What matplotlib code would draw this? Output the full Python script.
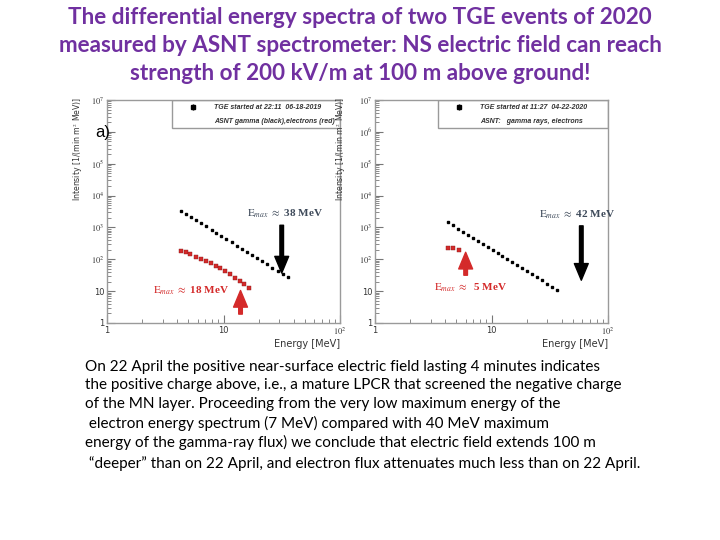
import numpy as np
import matplotlib
matplotlib.use("Agg")
import matplotlib.pyplot as plt
from matplotlib.patches import Rectangle
from matplotlib.ticker import LogLocator, NullFormatter

# ── Data ─────────────────────────────────────────────────────────────────────
# panel a) 06-18-2019
e_gam_a = [4.3, 4.8, 5.3, 5.8, 6.4, 7.1, 7.9, 8.7, 9.6, 10.6, 11.8,
           13.0, 14.4, 15.9, 17.6, 19.5, 21.5, 23.8, 26.3, 29.1, 32.2, 35.6]
i_gam_a = [3300, 2650, 2100, 1700, 1350, 1070, 850, 680, 540, 430, 340,
           270, 215, 172, 137, 109, 87, 69, 55, 44, 35, 27]
e_ele_a = [4.34, 4.75, 5.18, 5.83, 6.44, 7.1, 7.79, 8.6, 9.36, 10.3,
           11.4, 12.6, 13.9, 15.1, 16.7]
i_ele_a = [184, 167, 145, 120, 99, 86, 74, 63, 53, 42, 34, 26, 20.5, 17.3, 12.7]

# panel b) 04-22-2020
e_gam_b = [4.25, 4.7, 5.2, 5.7, 6.3, 6.9, 7.6, 8.4, 9.3, 10.2, 11.3, 12.4,
           13.7, 15.1, 16.6, 18.3, 20.2, 22.2, 24.5, 27.0, 29.8, 32.8, 36.2]
i_gam_b = [1430, 1150, 920, 740, 590, 475, 380, 305, 245, 196, 157, 126,
           101, 81, 65, 52, 42, 33.5, 27, 21.6, 17.3, 13.9, 11.0]
e_ele_b = [4.25, 4.69, 5.25]
i_ele_b = [230, 228, 200]

legend_a = ["TGE started at 22:11  06-18-2019", "ASNT gamma (black),electrons (red)"]
legend_b = ["TGE started at 11:27  04-22-2020", "ASNT:   gamma rays, electrons"]

title_lines = [
    "The differential energy spectra of two TGE events of 2020",
    "measured by ASNT spectrometer: NS electric field can reach",
    "strength of 200 kV/m at 100 m above ground!",
]
body_lines = [
    "On 22 April the positive near-surface electric field lasting 4 minutes indicates",
    "the positive charge above, i.e., a mature LPCR that screened the negative charge",
    "of the MN layer. Proceeding from the very low maximum energy of the",
    " electron energy spectrum (7 MeV) compared with 40 MeV maximum",
    "energy of the gamma-ray flux) we conclude that electric field extends 100 m",
    " \u201cdeeper\u201d than on 22 April, and electron flux attenuates much less than on 22 April.",
]

plt.rcParams["mathtext.fontset"] = "stix"

PURPLE = "#7030A0"
RED = "#d42a2a"
SLATE = "#3e4a5a"
FRAME = "#9a9a9a"

fig = plt.figure(figsize=(7.2, 5.4), dpi=100)
W, H = 720, 540


def make_axes(x0, x1, ylabels):
    ax = fig.add_axes([x0 / W, 1 - 323 / H, (x1 - x0) / W, 223 / H])
    ax.set_xscale("log")
    ax.set_yscale("log")
    ax.set_xlim(1, 100)
    ax.set_ylim(1, 1e7)
    for s in ax.spines.values():
        s.set_color(FRAME)
        s.set_linewidth(1)
    ax.xaxis.set_minor_locator(LogLocator(base=10, subs=np.arange(2, 10)))
    ax.yaxis.set_minor_locator(LogLocator(base=10, subs=np.arange(2, 10)))
    ax.xaxis.set_minor_formatter(NullFormatter())
    ax.yaxis.set_minor_formatter(NullFormatter())
    ax.set_xticks([1, 10, 100], ["1", "10", "$10^2$"])
    ax.set_yticks([1, 10, 1e2, 1e3, 1e4, 1e5, 1e6, 1e7], ylabels)
    ax.tick_params(which="both", direction="in", colors="#777777",
                   labelcolor="#333333", labelsize=6, pad=2)
    ax.tick_params(which="major", length=6)
    ax.tick_params(which="minor", length=3)
    ax.set_xlabel("Energy [MeV]", loc="right", fontsize=7, color="#333333", labelpad=1)
    ax.set_ylabel("Intensity [1/(min m$^2$ MeV)]", fontsize=5.6, color="#333333")
    ax.grid(False)
    return ax


def legend_box(ax, lines, x0):
    ax.add_patch(Rectangle((x0, 0.874), 1 - x0, 0.126, transform=ax.transAxes,
                           fill=False, edgecolor=FRAME, lw=1, zorder=5))
    ax.errorbar([x0 + 0.09], [0.968], yerr=[0.012], fmt="s", ms=2.2, color="black",
                transform=ax.transAxes, elinewidth=1, capsize=0)
    for txt, y in zip(lines, [0.968, 0.905]):
        ax.text(x0 + 0.18, y, txt, transform=ax.transAxes, fontsize=5.0,
                style="italic", weight="bold", color="#333333", va="center",
                family="Liberation Sans")


def arrow(ax, x, y_from, y_to, color):
    ax.annotate("", xy=(x, y_to), xytext=(x, y_from),
                arrowprops=dict(width=2.6, headwidth=10, headlength=12,
                                facecolor=color, edgecolor=color))


def emax(ax, x, y, txt, color):
    ax.text(x, y, r"$\mathrm{E}_{max}$" + txt, fontsize=8, color=color,
            family="Liberation Serif", weight="bold", va="center", ha="left")


# ── Panel a) ─────────────────────────────────────────────────────────────────
ax1 = make_axes(107, 340, ["1", "10", "$10^2$", "$10^3$", "$10^4$", "$10^5$", "", "$10^7$"])
ax1.yaxis.set_label_coords(-0.094, 0.78)
ax1.plot(e_gam_a, i_gam_a, "s", ms=1.9, color="black", ls="none")
ax1.plot(e_ele_a, i_ele_a, "s", ms=2.2, color=RED, mec="#8a1a1a", mew=0.3, ls="none")
legend_box(ax1, legend_a, 0.279)
arrow(ax1, 31.6, 1170, 37, "black")
arrow(ax1, 14.0, 1.9, 10.5, RED)
emax(ax1, 15.8, 2700, r" $\approx$ 38 MeV", SLATE)
emax(ax1, 2.5, 10, r" $\approx$ 18 MeV", RED)
fig.text(95 / W, 1 - 133 / H, "a)", fontsize=12, color="black", va="center",
         family="Liberation Sans")

# ── Panel b) ─────────────────────────────────────────────────────────────────
ax2 = make_axes(375, 608, ["1", "10", "$10^2$", "$10^3$", "$10^4$", "$10^5$", "$10^6$", "$10^7$"])
ax2.yaxis.set_label_coords(-0.116, 0.78)
ax2.plot(e_gam_b, i_gam_b, "s", ms=1.9, color="black", ls="none")
ax2.plot(e_ele_b, i_ele_b, "s", ms=2.2, color=RED, mec="#8a1a1a", mew=0.3, ls="none")
legend_box(ax2, legend_b, 0.27)
arrow(ax2, 59, 1120, 22, "black")
arrow(ax2, 6.0, 31.6, 166, RED)
emax(ax2, 25.7, 2500, r" $\approx$ 42 MeV", SLATE)
emax(ax2, 3.24, 12.6, r" $\approx$  5 MeV", RED)

# ── Texts ────────────────────────────────────────────────────────────────────
for line, y in zip(title_lines, [17, 45, 73]):
    fig.text(0.5, 1 - y / H, line, ha="center", va="center", fontsize=16.2,
             weight="bold", color=PURPLE, family="Lato")

for line, y in zip(body_lines, [367, 385, 404, 423, 442, 464]):
    fig.text(85 / W, 1 - y / H, line, ha="left", va="center", fontsize=11,
             color="black", family="Lato")

fig.savefig("out.png", dpi=100)
